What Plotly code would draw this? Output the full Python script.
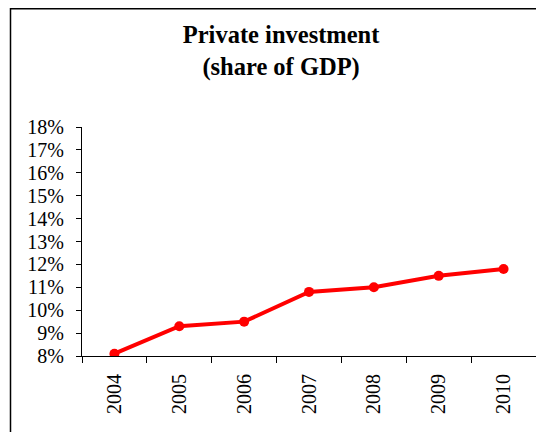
import plotly.graph_objects as go

years = ["2004", "2005", "2006", "2007", "2008", "2009", "2010"]
share = [0.081, 0.093, 0.095, 0.108, 0.110, 0.115, 0.118]
y_ticks = [0.08, 0.09, 0.10, 0.11, 0.12, 0.13, 0.14, 0.15, 0.16, 0.17, 0.18]
y_labels = ["8%", "9%", "10%", "11%", "12%", "13%", "14%", "15%", "16%", "17%", "18%"]

W, H = 544, 432
OFF = 8  # page body margin offset
# target plot area in page pixels: x 82..536, y 127..356
L = 82 - OFF
T = 127 - OFF
R = W - (536 - OFF)
B = H - (356 - OFF)
pw, ph = W - L - R, H - T - B

fig = go.Figure(go.Scatter(
    x=years, y=share, mode="lines+markers",
    line=dict(color="#FF0000", width=4),
    marker=dict(color="#FF0000", size=10),
    hoverinfo="skip",
))

font = dict(family="Liberation Serif, Times New Roman, serif", color="black")

fig.update_layout(
    width=W, height=H,
    margin=dict(l=L, r=R, t=T, b=B),
    paper_bgcolor="white", plot_bgcolor="white",
    showlegend=False,
    font=font,
    title=dict(
        text="<b>Private investment<br>(share of GDP)</b>",
        x=0.502, xanchor="center", y=0.918, yanchor="top",
        font=dict(size=24.5, **font),
    ),
    xaxis=dict(
        type="category", showgrid=False, zeroline=False,
        showline=True, linecolor="black", linewidth=1,
        ticks="outside", tickson="boundaries", ticklen=6, tickcolor="black",
        tickangle=-90, tickfont=dict(size=20, **font),
        ticklabelstandoff=9,
        range=[-0.5, 6.5],
    ),
    yaxis=dict(
        range=[0.08, 0.18], tickvals=y_ticks, ticktext=y_labels,
        showgrid=False, zeroline=False,
        showline=True, linecolor="black", linewidth=1,
        ticks="outside", ticklen=5, tickcolor="black",
        tickfont=dict(size=20, **font),
        ticklabelstandoff=8,
    ),
)

def px_x(p):
    return (p - OFF - L) / pw

def px_y(p):
    return (H - B - (p - OFF)) / ph

# outer chart border (right and bottom edges fall outside the view)
fig.add_shape(
    type="rect", xref="paper", yref="paper",
    x0=px_x(10.5), x1=px_x(560), y0=px_y(450), y1=px_y(8.8),
    line=dict(color="black", width=1.5), fillcolor="rgba(0,0,0,0)",
)

fig.write_html("out.html")
